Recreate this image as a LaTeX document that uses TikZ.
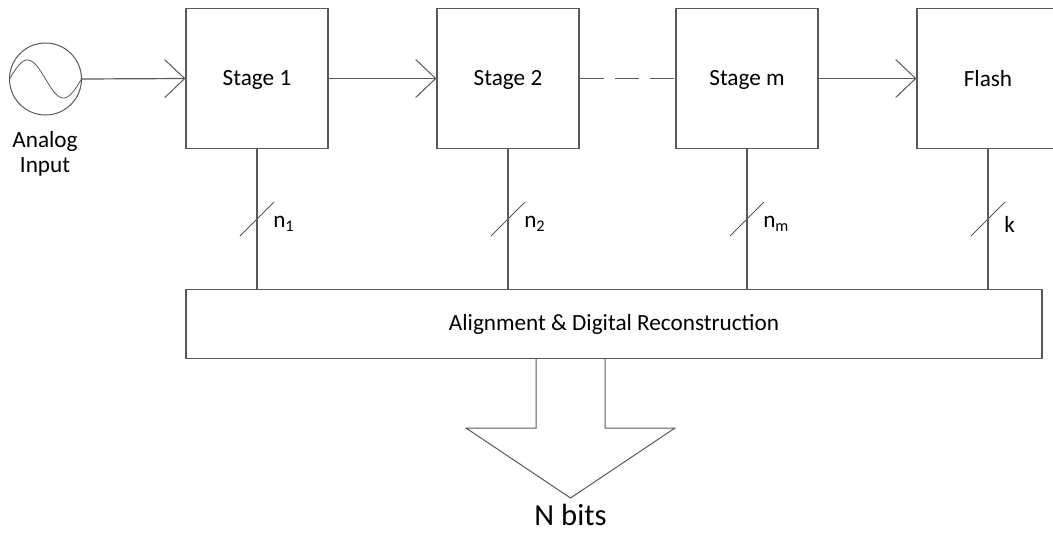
\documentclass[tikz,border=0pt]{standalone}
\usepackage{fontspec}
\setmainfont{Carlito}
\usetikzlibrary{arrows.meta}
\begin{document}
\begin{tikzpicture}[x=0.75pt,y=-0.75pt,
  wire/.style={draw=black!65,line width=0.9pt},
  lbl/.style={font=\fontsize{17.4}{20}\selectfont},
  stagebox/.style={wire,minimum width=106.5pt,minimum height=104.5pt,inner sep=0pt},
  barb/.style={wire,-{Straight Barb[length=15pt,width=28.5pt,line width=0.75pt]}},
  buslabel/.style={lbl,anchor=west,inner sep=0pt},
  tick/.style={draw=black!65,line width=0.75pt}]
\useasboundingbox (0,0) rectangle (1053,533);
\clip (0,0) rectangle (1053,533);

% signal source
\node[draw=black!65,line width=0.75pt,circle,minimum size=54pt,inner sep=0pt] (src) at (45.5,79) {};
\draw[black!65,line width=0.6pt] plot[domain=9.5:81.5,samples=60,smooth] (\x,{79-19*sin((\x-9.5)/72*360)});
\node[lbl] (srclbl1) at (45,141) {Analog};
\node[lbl] (srclbl2) at (45,167) {Input};

% pipeline stages
\node[stagebox] (s1) at (257,78.5) {};
\node[stagebox] (s2) at (508,78.5) {};
\node[stagebox] (sm) at (747,78.5) {};
\node[stagebox,minimum width=108pt] (fl) at (989,78.5) {};
\node[lbl] (s1t) at (257,80) {Stage 1};
\node[lbl] (s2t) at (508,80) {Stage 2};
\node[lbl] (smt) at (747,80) {Stage m};
\node[lbl] (flt) at (988,79) {Flash};

% reconstruction block
\node[wire,minimum width=642pt,minimum height=52pt,inner sep=0pt,lbl] (rec) at (614,324) {Alignment \& Digital Reconstruction};

% signal chain
\draw[barb] (src.east) -- (s1.west);
\draw[barb] (s1.east) -- (s2.west);
\draw[wire,dash pattern=on 18pt off 8.3pt] (s2.east) -- (sm.west);
\draw[barb] (sm.east) -- (fl.west);

% digital buses with width ticks
\foreach \n/\x/\lab in {s1/257/{n\textsubscript{1}},s2/508/{n\textsubscript{2}},sm/747/{n\textsubscript{m}},fl/988/{k}}{
  \draw[wire] (\x,148) -- (\x,289);
  \coordinate (t\n) at (\x,219);
  \draw[tick] ([shift={(-17,17)}]t\n) -- ([shift={(17,-17)}]t\n);
  \node[buslabel] at ([shift={(16,5)}]t\n) {\lab};
}

% output arrow
\coordinate (o1) at (536,359);
\coordinate (o2) at (605,359);
\draw[black!65,line width=0.75pt] (o1) -- (536,428) -- (466,428) -- (570.5,498) -- (675,428) -- (605,428) -- (o2);
\node[font=\fontsize{23}{26}\selectfont,inner sep=1pt] (out) at (570.5,515) {N bits};
\end{tikzpicture}
\end{document}
